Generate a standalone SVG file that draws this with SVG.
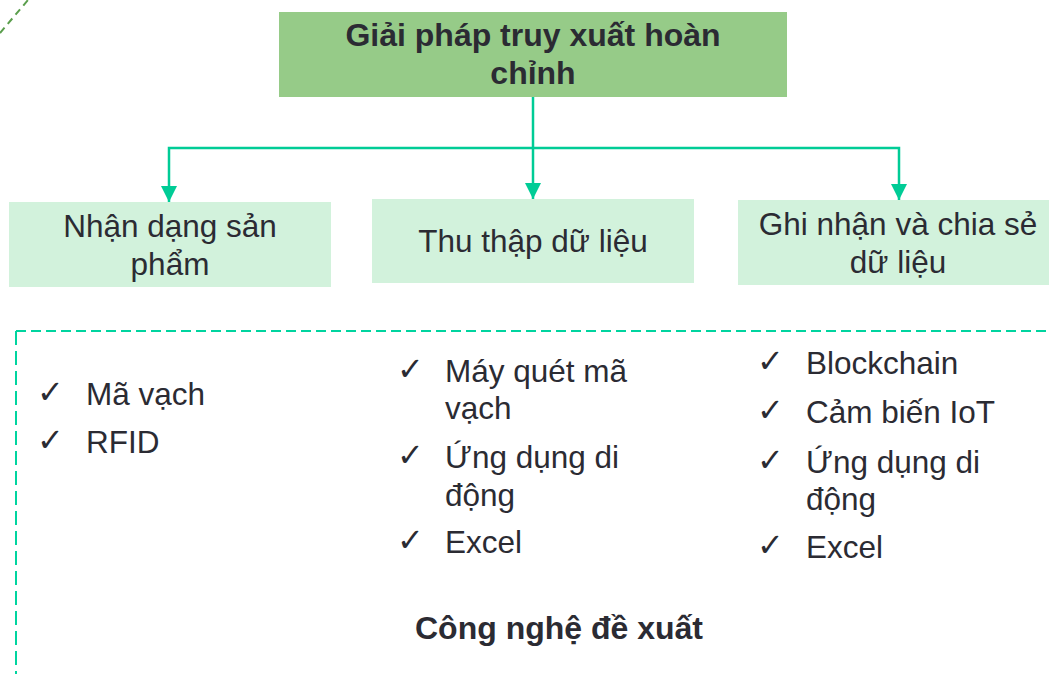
<svg xmlns="http://www.w3.org/2000/svg" width="1049" height="674" viewBox="0 0 1049 674">
<defs>
<style>
.txt{font-family:"Liberation Sans",Arial,sans-serif;fill:#2b2b33;}
.reg{font-size:31.5px;}
.bold{font-size:32px;font-weight:bold;}
.chk{font-family:"DejaVu Sans",sans-serif;font-size:32px;fill:#2b2b33;}
.node{fill:#d2f2dc;}
.conn{stroke:#00cc96;stroke-width:2.5;fill:none;}
.dash{stroke:#00d49f;stroke-width:2;fill:none;}
</style>
<marker id="arr" viewBox="0 0 16 16" refX="16" refY="8" markerWidth="16" markerHeight="16" markerUnits="userSpaceOnUse" orient="auto">
<path d="M0,0 L16,8 L0,16 Z" fill="#00cc96"/>
</marker>
</defs>
<rect width="1049" height="674" fill="#ffffff"/>
<line x1="0" y1="33" x2="28" y2="0" stroke="#5a9e4c" stroke-width="2" stroke-dasharray="7,5"/>
<g id="dashed-frame">
<line class="dash" x1="16" y1="331" x2="1049" y2="331" stroke-dasharray="10,5"/>
<line class="dash" x1="16" y1="331" x2="16" y2="674" stroke-dasharray="14,6"/>
</g>
<g id="connectors">
<line class="conn" x1="533" y1="97" x2="533" y2="199" marker-end="url(#arr)"/>
<polyline class="conn" points="533,148 169,148 169,202" marker-end="url(#arr)"/>
<polyline class="conn" points="533,148 899,148 899,200" marker-end="url(#arr)"/>
</g>
<g id="root">
<rect x="279" y="12" width="508" height="85" fill="#96cb88"/>
<text class="txt bold" x="533" y="46" text-anchor="middle">Giải pháp truy xuất hoàn</text>
<text class="txt bold" x="533" y="84" text-anchor="middle">chỉnh</text>
</g>
<g id="node-identify">
<rect class="node" x="9" y="202" width="322" height="85"/>
<text class="txt reg" x="170" y="237" text-anchor="middle">Nhận dạng sản</text>
<text class="txt reg" x="170" y="275" text-anchor="middle">phẩm</text>
</g>
<g id="node-collect">
<rect class="node" x="372" y="199" width="322" height="84"/>
<text class="txt reg" x="533" y="252" text-anchor="middle">Thu thập dữ liệu</text>
</g>
<g id="node-share">
<rect class="node" x="738" y="200" width="322" height="85"/>
<text class="txt reg" x="898" y="235" text-anchor="middle">Ghi nhận và chia sẻ</text>
<text class="txt reg" x="898" y="273" text-anchor="middle">dữ liệu</text>
</g>
<g id="list-identify">
<text class="chk" x="37" y="403">✓</text>
<text class="txt reg" x="86" y="405">Mã vạch</text>
<text class="chk" x="37" y="451">✓</text>
<text class="txt reg" x="86" y="453">RFID</text>
</g>
<g id="list-collect">
<text class="chk" x="397" y="380">✓</text>
<text class="txt reg" x="445" y="382">Máy quét mã</text>
<text class="txt reg" x="445" y="419">vạch</text>
<text class="chk" x="397" y="466">✓</text>
<text class="txt reg" x="445" y="468">Ứng dụng di</text>
<text class="txt reg" x="445" y="506">động</text>
<text class="chk" x="397" y="551">✓</text>
<text class="txt reg" x="445" y="553">Excel</text>
</g>
<g id="list-share">
<text class="chk" x="757" y="372">✓</text>
<text class="txt reg" x="806" y="374">Blockchain</text>
<text class="chk" x="757" y="421">✓</text>
<text class="txt reg" x="806" y="423">Cảm biến IoT</text>
<text class="chk" x="757" y="471">✓</text>
<text class="txt reg" x="806" y="473">Ứng dụng di</text>
<text class="txt reg" x="806" y="510">động</text>
<text class="chk" x="757" y="556">✓</text>
<text class="txt reg" x="806" y="558">Excel</text>
</g>
<g id="caption">
<text class="txt bold" x="559" y="639" text-anchor="middle">Công nghệ đề xuất</text>
</g>
</svg>
